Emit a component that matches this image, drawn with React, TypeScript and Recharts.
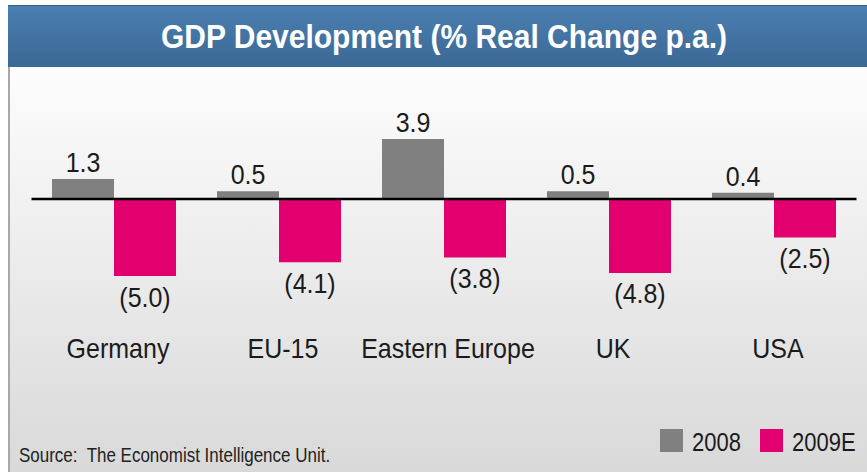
import React from 'react';
import { BarChart, Bar, XAxis, YAxis, ReferenceLine, LabelList, Legend } from 'recharts';

// ---- data ----
const categories = ['Germany', 'EU-15', 'Eastern Europe', 'UK', 'USA'];
const values2008 = [1.3, 0.5, 3.9, 0.5, 0.4];
const values2009E = [-5.0, -4.1, -3.8, -4.8, -2.5];
const seriesNames = ['2008', '2009E'];
const titleText = 'GDP Development (% Real Change p.a.)';
const sourceText = 'Source:  The Economist Intelligence Unit.';

const data = categories.map((c, i) => ({ name: c, v2008: values2008[i], v2009E: values2009E[i] }));

// ---- styles ----
const W = 867;
const H = 472;
const FONT = '"Liberation Sans", Arial, Helvetica, sans-serif';
const GRAY = '#808080';
const PINK = '#e2006f';
const TEXT = '#1b1b1b';
const STRETCH = 1.14;

const fmt = (v: number) => (v < 0 ? `(${Math.abs(v).toFixed(1)})` : v.toFixed(1));

const ValueLabel = (props: any) => {
  const { x, y, width, height, value } = props;
  const top = Math.min(y, y + height);
  const bottom = Math.max(y, y + height);
  const cx = x + width / 2;
  const base = value >= 0 ? top - 7 : bottom + 30.5;
  return (
    <text
      transform={`translate(${cx},${base}) scale(1,${STRETCH})`}
      textAnchor="middle"
      fontFamily={FONT}
      fontSize={25}
      fill={TEXT}
    >
      {fmt(value)}
    </text>
  );
};

const CategoryTick = (props: any) => {
  const { x, y, payload } = props;
  return (
    <text
      transform={`translate(${x + 4},${y + 51.5}) scale(1,${STRETCH})`}
      textAnchor="middle"
      fontFamily={FONT}
      fontSize={25}
      fill={TEXT}
    >
      {payload.value}
    </text>
  );
};

const LegendContent = (props: any) => {
  const { payload } = props;
  const items = payload || [];
  const offsets = [0, 100];
  return (
    <svg width={210} height={30} style={{ display: 'block', overflow: 'visible' }}>
      {items.map((p: any, i: number) => (
        <g key={i}>
          <rect x={offsets[i]} y={0} width={23} height={23} fill={p.color} />
          <text
            transform={`translate(${offsets[i] + 32},22) scale(1,${STRETCH})`}
            fontFamily={FONT}
            fontSize={22}
            fill={TEXT}
          >
            {p.value}
          </text>
        </g>
      ))}
    </svg>
  );
};

export default function App() {
  return (
    <div style={{ position: 'fixed', left: 0, top: 0, width: W, height: H, background: '#ffffff', overflow: 'hidden' }}>
      {/* header band */}
      <div
        style={{
          position: 'absolute',
          left: 8,
          top: 5,
          width: W - 8,
          height: 62,
          background: 'linear-gradient(#4a7fb1, #3b6894)',
          borderTop: '1px solid #3a6089',
          boxSizing: 'border-box',
        }}
      />
      {/* panel */}
      <div
        style={{
          position: 'absolute',
          left: 8,
          top: 67,
          width: W - 8,
          height: H - 67,
          background: 'linear-gradient(#fdfdfd, #d9d9d9)',
          borderLeft: '2px solid #a8a8a8',
          boxSizing: 'border-box',
        }}
      />
      {/* title and source */}
      <svg width={W} height={H} style={{ position: 'absolute', left: 0, top: 0 }}>
        <text
          transform={`translate(444,48) scale(1,1.12)`}
          textAnchor="middle"
          fontFamily={FONT}
          fontWeight="bold"
          fontSize={30}
          fill="#ffffff"
        >
          {titleText}
        </text>
        <text
          transform={`translate(19,462.3) scale(1,1.15)`}
          fontFamily={FONT}
          fontSize={17}
          fill="#222222"
          style={{ whiteSpace: 'pre' }}
        >
          {sourceText}
        </text>
      </svg>
      <div style={{ position: 'absolute', left: 0, top: 0 }}>
        <BarChart
          width={W}
          height={H}
          data={data}
          margin={{ top: 122, right: 10.5, left: 31.5, bottom: 105.2 }}
          barCategoryGap={20.5}
          barGap={0}
        >
          <XAxis
            dataKey="name"
            height={60}
            axisLine={false}
            tickLine={false}
            tickSize={0}
            tickMargin={0}
            interval={0}
            tick={<CategoryTick />}
          />
          <YAxis hide type="number" domain={[-7, 5]} allowDataOverflow />
          <Legend
            layout="vertical"
            align="center"
            verticalAlign="middle"
            wrapperStyle={{ left: 660, top: 429, width: 210, height: 30 }}
            content={<LegendContent />}
          />
          <Bar dataKey="v2008" name={seriesNames[0]} fill={GRAY} isAnimationActive={false}>
            <LabelList dataKey="v2008" content={<ValueLabel />} />
          </Bar>
          <Bar dataKey="v2009E" name={seriesNames[1]} fill={PINK} isAnimationActive={false}>
            <LabelList dataKey="v2009E" content={<ValueLabel />} />
          </Bar>
          <ReferenceLine y={0} stroke="#000000" strokeWidth={2.5} />
        </BarChart>
      </div>
    </div>
  );
}
